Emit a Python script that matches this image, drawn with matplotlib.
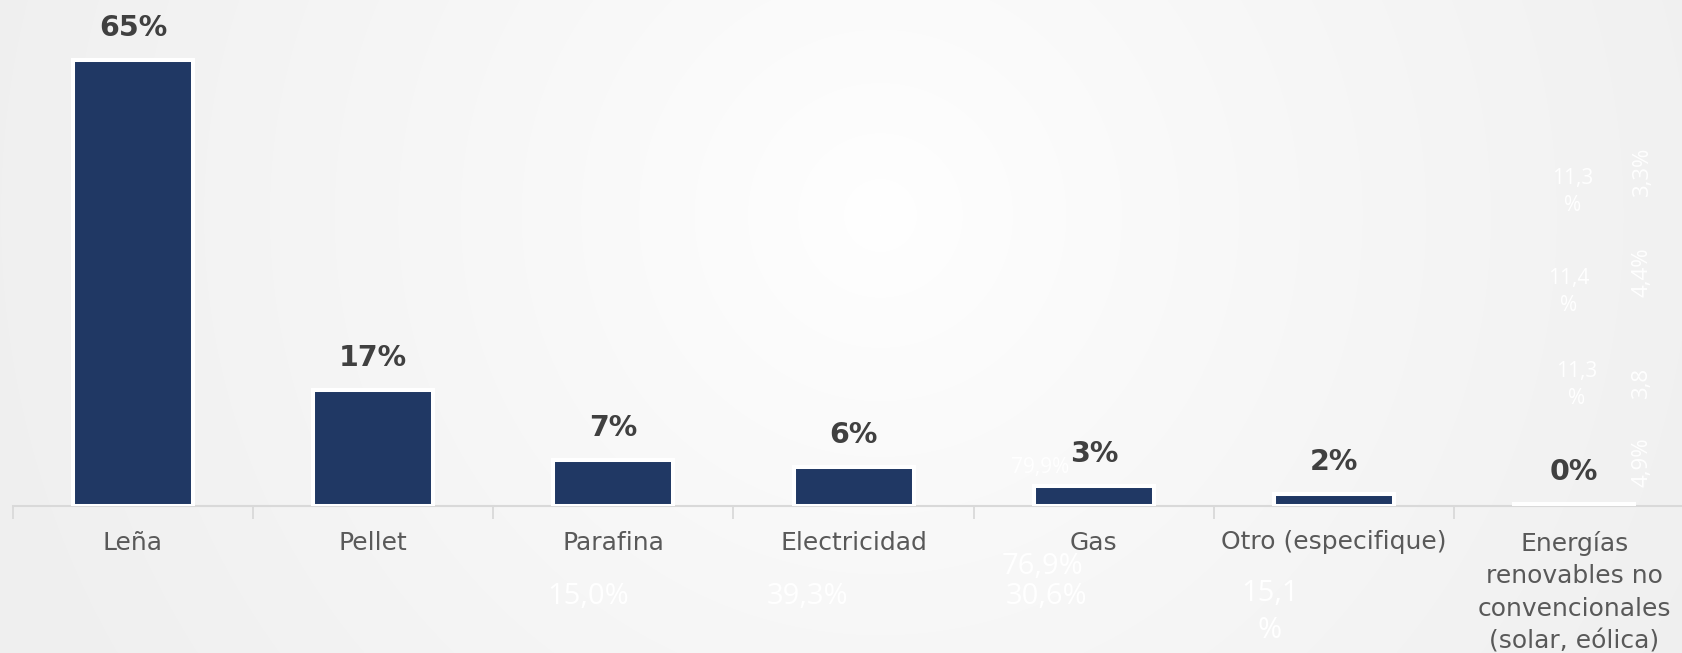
import numpy as np
import matplotlib
matplotlib.use("Agg")
import matplotlib.pyplot as plt

# ---- data ----
categories = ["Leña", "Pellet", "Parafina", "Electricidad", "Gas",
              "Otro (especifique)",
              "Energías\nrenovables no\nconvencionales\n(solar, eólica)"]
values = [64.9, 16.8, 6.6, 5.6, 2.8, 1.7, 0.2]

# faint leftover labels visible in the picture (white on near-white)
ghost_texts = ["15,0%", "39,3%", "30,6%", "76,9%", "79,9%", "15,1\n%",
               "11,3\n%", "11,4\n%", "11,3\n%"]
ghost_rot_texts = ["3,3%", "4,4%", "3,8", "4,9%"]

W, H = 1683, 653
fig = plt.figure(figsize=(W / 100, H / 100), dpi=100)

# radial gradient background
bg = fig.add_axes([0, 0, 1, 1], zorder=0)
yy, xx = np.mgrid[0:H, 0:W]
cx, cy = 880, 215
r = np.sqrt((xx - cx) ** 2 + (yy - cy) ** 2)
t = np.clip(r / 900, 0, 1)
lum = 1.0 - (1.0 - 0.94) * t ** 0.85
img = np.dstack([lum, lum, lum])
bg.imshow(img, aspect="auto", extent=[0, W, H, 0])
bg.set_xlim(0, W)
bg.set_ylim(H, 0)
bg.axis("off")

# main axes
axis_y = 505.5          # pixel row of the baseline
left_px = 12.9
step_px = 240.2
px_per_unit = 6.87
ymax = axis_y / px_per_unit
xmax = -0.5 + (W - left_px) / step_px

ax = fig.add_axes([left_px / W, (H - axis_y) / H, (W - left_px) / W, axis_y / H],
                  zorder=1)
ax.patch.set_alpha(0)
x = np.arange(len(categories))
bars = ax.bar(x, values, width=0.5, color="#203864", edgecolor="white",
              linewidth=2.9, zorder=3)
ax.set_xlim(-0.5, xmax)
ax.set_ylim(0, ymax)

for xi, v in zip(x, values):
    ax.annotate(f"{v:.0f}%", (xi, v), xytext=(0, 13), textcoords="offset points",
                ha="center", va="bottom", fontsize=20.5, fontweight="bold",
                color="#404040", family="DejaVu Sans", zorder=4)

for s in ["top", "right", "left"]:
    ax.spines[s].set_visible(False)
ax.spines["bottom"].set_color("#d9d9d9")
ax.spines["bottom"].set_linewidth(1.5)
ax.set_yticks([])
ax.set_xticks(x)
ax.set_xticklabels(categories, fontsize=18, color="#595959",
                   family="DejaVu Sans", linespacing=1.45, va="top")
ax.tick_params(axis="x", which="major", length=0, pad=18)
ax.set_xticks(np.arange(len(categories)) - 0.5, minor=True)
ax.tick_params(axis="x", which="minor", length=9, width=1.3, color="#d9d9d9")

# ghost text in figure pixel coords
gpos = [(588, 597), (808, 597), (1047, 597), (1043, 566), (1040, 467),
        (1270, 612), (1573, 192), (1569, 292), (1577, 385)]
for s, (px, py) in zip(ghost_texts, gpos):
    big = py > 450 and px < 1400
    fig.text(px / W, 1 - py / H, s, ha="center", va="center",
             fontsize=(21 if py > 550 else 15) if big else 15,
             color="white", family="Open Sans", linespacing=1.4, zorder=2)
rpos = [(1643, 172), (1642, 272), (1642, 383), (1642, 462)]
for s, (px, py) in zip(ghost_rot_texts, rpos):
    fig.text(px / W, 1 - py / H, s, ha="center", va="center", fontsize=16,
             color="white", family="Open Sans", rotation=90, zorder=2)

fig.savefig("out.png", dpi=100)
